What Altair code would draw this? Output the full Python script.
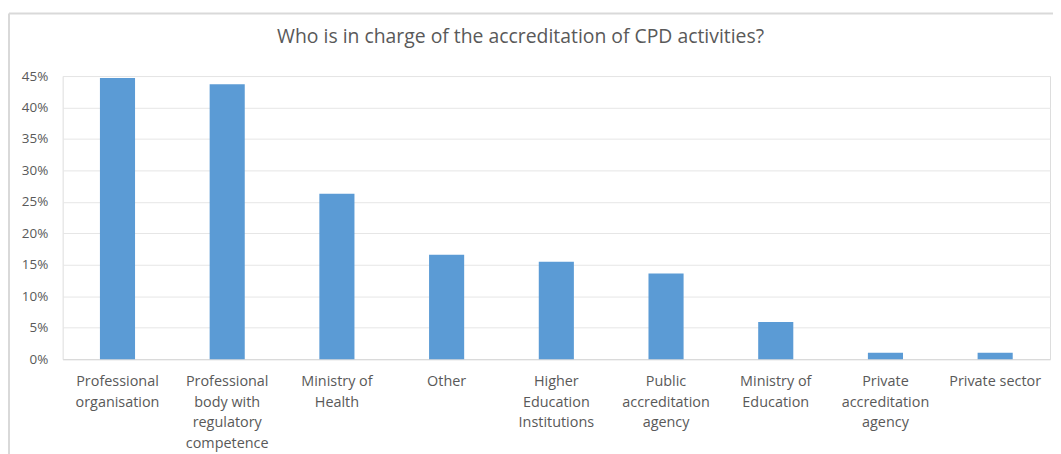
import altair as alt
import pandas as pd

categories = [
    "Professional organisation",
    "Professional body with regulatory competence",
    "Ministry of Health",
    "Other",
    "Higher Education Institutions",
    "Public accreditation agency",
    "Ministry of Education",
    "Private accreditation agency",
    "Private sector",
]
label_lines = [
    "Professional|organisation",
    "Professional|body with|regulatory|competence",
    "Ministry of|Health",
    "Other",
    "Higher|Education|Institutions",
    "Public|accreditation|agency",
    "Ministry of|Education",
    "Private|accreditation|agency",
    "Private sector",
]
values = [0.447, 0.437, 0.263, 0.166, 0.155, 0.136, 0.059, 0.010, 0.010]
title_text = "Who is in charge of the accreditation of CPD activities?"

df = pd.DataFrame({"category": categories, "value": values, "label": label_lines})
tdf = pd.DataFrame({"t": [title_text]})

expr = " : ".join(
    [f"datum.label == '{c}' ? split('{l}', '|')" for c, l in zip(categories, label_lines)]
) + " : datum.label"

FONT = "Open Sans"
GREY = "#595959"

bars = alt.Chart(df).mark_bar(color="#5B9BD5").encode(
    x=alt.X(
        "category:N",
        sort=categories,
        title=None,
        scale=alt.Scale(paddingInner=0.68, paddingOuter=0.34),
        axis=alt.Axis(
            labelAngle=0,
            labelExpr=expr,
            labelFont=FONT,
            labelFontSize=14.5,
            labelColor=GREY,
            labelLineHeight=20.5,
            labelPadding=16,
            ticks=False,
            domainColor="#d9d9d9",
            domainWidth=1,
            labelLimit=200,
        ),
    ),
    y=alt.Y(
        "value:Q",
        title=None,
        scale=alt.Scale(domain=[0, 0.45], nice=False),
        axis=alt.Axis(
            format=".0%",
            values=[0, 0.05, 0.10, 0.15, 0.20, 0.25, 0.30, 0.35, 0.40, 0.45],
            labelFont=FONT,
            labelFontSize=13.5,
            labelColor=GREY,
            labelPadding=15,
            ticks=False,
            domain=False,
            gridColor="#e6e6e6",
            gridWidth=1,
        ),
    ),
)

title = alt.Chart(tdf).mark_text(
    font=FONT, fontSize=19.5, color=GREY, align="center", baseline="alphabetic"
).encode(x=alt.value(461), y=alt.value(-33), text="t:N")

border_left = alt.Chart(tdf).mark_rule(color="#d9d9d9", strokeWidth=2).encode(
    x=alt.value(-54), y=alt.value(-63), y2=alt.value(390)
)
border_top = alt.Chart(tdf).mark_rule(color="#d9d9d9", strokeWidth=2).encode(
    x=alt.value(-54), x2=alt.value(1000), y=alt.value(-63)
)

chart = alt.layer(bars, title, border_left, border_top).properties(
    width=994,
    height=285,
    autosize=alt.AutoSizeParams(type="none"),
    padding={"left": 55, "top": 67, "right": 3, "bottom": 95},
).configure_view(stroke=None).configure(background="white")

chart.save("out.html", embed_options={"renderer": "svg", "actions": False})
